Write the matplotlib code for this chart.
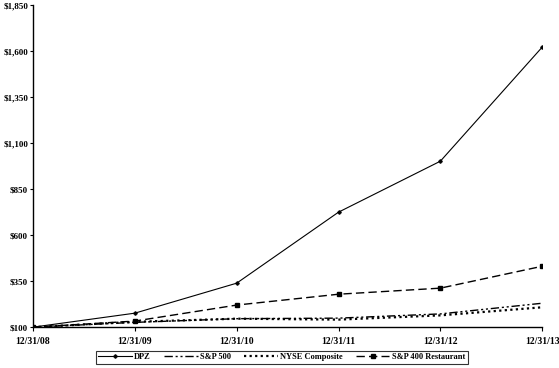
import matplotlib
matplotlib.use("Agg")
import matplotlib.pyplot as plt
from matplotlib.ticker import FuncFormatter

dates = ["12/31/08", "12/31/09", "12/31/10", "12/31/11", "12/31/12", "12/31/13"]
dpz = [100, 176, 339, 725, 1002, 1622]
sp500 = [100, 126, 146, 149, 172, 230]
nyse = [100, 129, 146, 141, 164, 208]
sp400_rest = [100, 133, 220, 279, 312, 431]
yticks = [100, 350, 600, 850, 1100, 1350, 1600, 1850]

plt.rcParams['font.family'] = ['Liberation Serif', 'DejaVu Serif']
plt.rcParams['font.weight'] = 'bold'

fig = plt.figure(figsize=(5.59, 3.68), dpi=100)
ax = fig.add_axes([0.059, 0.111, 0.911, 0.875])
x = list(range(len(dates)))

ax.plot(x, dpz, color='black', lw=0.8, marker='P', ms=2.2, label='DPZ')
ax.plot(x, sp500, color='black', lw=1.0, dashes=(6, 2, 1.5, 2, 1.5, 2), label='S&P 500')
ax.plot(x, nyse, color='black', lw=1.6, dashes=(1, 1.5), label='NYSE Composite')
ax.plot(x, sp400_rest, color='black', lw=1.0, dashes=(6, 3), marker='s', ms=2.2, label='S&P 400 Restaurant')

ax.set_xlim(0, 5)
ax.set_ylim(100, 1850)
ax.set_xticks(x)
ax.set_xticklabels(dates)
ax.set_yticks(yticks)
ax.yaxis.set_major_formatter(FuncFormatter(lambda v, p: "${:,.0f}".format(v)))
for s in ['top', 'right']:
    ax.spines[s].set_visible(False)
for s in ['left', 'bottom']:
    ax.spines[s].set_linewidth(1.0)
ax.tick_params(axis='y', labelsize=6.5, length=2.5, width=0.8, direction='out', pad=1)
ax.tick_params(axis='x', labelsize=7, length=3, width=0.8, direction='out', pad=4)
for lbl in ax.get_xticklabels() + ax.get_yticklabels():
    lbl.set_fontweight('bold')

leg = fig.legend(loc='lower center', bbox_to_anchor=(0.504, 0.0), ncol=4, fontsize=6,
                 frameon=True, fancybox=False, edgecolor='black', handlelength=4.0,
                 columnspacing=1.6, borderpad=0.3, handletextpad=0.3)
leg.get_frame().set_linewidth(0.8)
for t in leg.get_texts():
    t.set_fontweight('bold')

fig.savefig("out.png", dpi=100)
